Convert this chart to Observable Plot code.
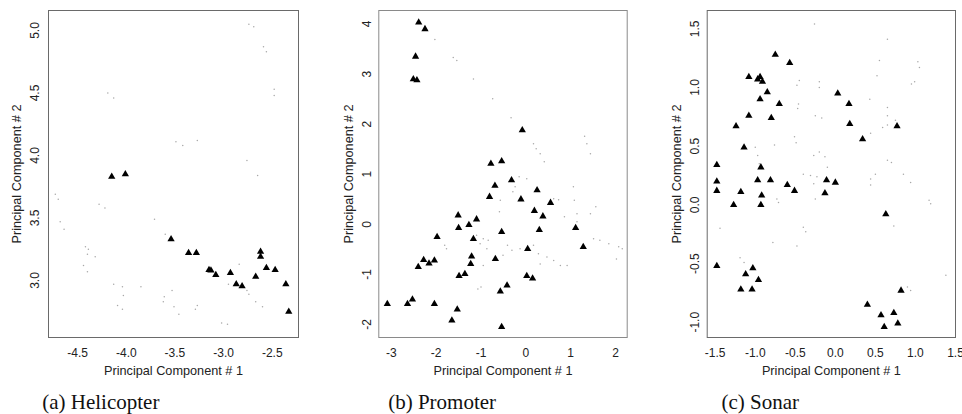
<!DOCTYPE html>
<html>
<head>
<meta charset="utf-8">
<script src="https://cdn.jsdelivr.net/npm/d3@7"></script>
<script src="https://cdn.jsdelivr.net/npm/@observablehq/plot@0.6"></script>
<style>
  html, body { margin: 0; padding: 0; background: #fff; }
  #wrap { position: relative; width: 962px; height: 414px; overflow: hidden; }
  #wrap svg { position: absolute; top: 0; overflow: visible; }
</style>
</head>
<body>
<div id="wrap"></div>
<script>
// ---------- (a) Helicopter ----------
const heliTriangles = [
  [-4.15,3.83],[-4.01,3.85],[-3.54,3.33],[-3.36,3.22],[-3.28,3.22],[-3.15,3.085],
  [-3.13,3.08],[-3.08,3.045],[-2.93,3.06],[-2.87,2.97],[-2.81,2.955],[-2.67,3.03],
  [-2.62,3.23],[-2.62,3.19],[-2.56,3.10],[-2.47,3.085],[-2.36,2.97],[-2.33,2.75]
];
const heliDots = [
  [-2.74,5.05],[-2.69,5.03],[-2.59,4.87],[-2.56,4.83],[-2.48,4.53],[-2.48,4.48],
  [-4.19,4.50],[-4.13,4.46],[-3.49,4.11],[-3.42,4.08],[-3.27,4.12],[-2.76,3.96],
  [-2.65,3.84],[-4.73,3.69],[-4.70,3.65],[-4.28,3.61],[-4.22,3.58],[-3.71,3.49],
  [-4.68,3.47],[-4.64,3.41],[-3.60,3.37],[-4.42,3.27],[-4.39,3.25],[-4.40,3.21],
  [-4.32,3.19],[-4.44,3.12],[-4.40,3.07],[-4.13,2.97],[-4.04,2.95],[-4.03,2.88],
  [-3.85,2.95],[-3.53,2.92],[-3.61,2.87],[-3.62,2.83],[-3.51,2.79],[-3.46,2.73],
  [-3.27,2.80],[-3.29,2.77],[-4.09,2.80],[-4.04,2.77],[-2.84,3.13],[-2.95,2.97],
  [-2.76,2.92],[-2.74,2.89],[-2.67,2.83],[-2.60,2.79],[-3.02,2.66],[-2.96,2.65]
];
const heliXTicks = [-4.5, -4.0, -3.5, -3.0, -2.5];
const heliYTicks = [3.0, 3.5, 4.0, 4.5, 5.0];

// ---------- (b) Promoter ----------
const promTriangles = [
  [-2.39,4.03],[-2.25,3.90],[-2.46,3.35],[-2.51,2.90],[-2.43,2.88],[-0.08,1.88],
  [-0.78,1.21],[-0.54,1.26],[-0.32,0.88],[-0.69,0.77],[-0.81,0.55],[-0.11,0.50],
  [0.25,0.68],[0.55,0.43],[0.19,0.27],[0.38,0.16],[-1.51,0.18],[-1.50,-0.07],
  [-1.27,-0.01],[-1.10,0.10],[-1.17,-0.29],[-1.98,-0.25],[-0.54,-0.15],[0.30,-0.11],
  [1.11,-0.07],[1.28,-0.45],[0.04,-0.49],[-1.21,-0.64],[-1.23,-0.79],[-0.68,-0.69],
  [-2.28,-0.71],[-2.04,-0.72],[-2.16,-0.78],[-2.40,-0.85],[-1.49,-1.03],[-1.36,-0.99],
  [0.02,-1.03],[0.15,-1.08],[-0.42,-1.22],[-0.57,-1.34],[-3.09,-1.59],[-2.64,-1.59],
  [-2.53,-1.50],[-2.04,-1.59],[-1.53,-1.70],[-1.65,-1.92],[-0.54,-2.05]
];
const promDots = [
  [-2.03,3.69],[-1.62,3.33],[-1.54,3.27],[-1.17,2.90],[-0.74,2.51],[-0.33,2.13],
  [0.17,1.61],[0.23,1.51],[0.32,1.41],[0.41,1.25],[1.31,1.76],[1.36,1.61],
  [1.44,1.41],[-0.15,0.95],[0.02,0.91],[-0.24,0.75],[-0.29,0.65],[-0.57,0.48],
  [-0.59,0.25],[0.62,0.51],[0.73,0.49],[1.06,0.75],[1.08,0.48],[1.14,0.21],
  [1.44,0.21],[1.56,0.35],[0.86,0.15],[1.14,0.05],[1.51,-0.29],[1.65,-0.32],
  [1.85,-0.39],[2.07,-0.45],[2.15,-0.49],[2.02,-0.69],[-1.10,-0.22],[-0.95,-0.29],
  [-0.84,-0.32],[-1.02,-0.39],[-0.87,-0.49],[-0.41,-0.42],[-0.31,-0.52],[-0.51,-0.62],
  [0.28,-0.59],[0.47,-0.65],[0.62,-0.72],[0.77,-0.82],[0.92,-0.82],[0.32,-0.79],
  [-0.95,-0.82],[-1.00,-1.25],[-1.07,-1.29],[-1.77,-0.49],[-1.81,-0.42],[0.17,-0.42],
  [-0.13,-0.49]
];
const promXTicks = [-3, -2, -1, 0, 1, 2];
const promYTicks = [-2, -1, 0, 1, 2, 3, 4];

// ---------- (c) Sonar ----------
const sonarTriangles = [
  [-1.48,0.34],[-1.48,0.20],[-1.48,0.12],[-1.27,0.00],[-1.18,0.11],[-1.14,0.49],
  [-1.24,0.67],[-1.08,0.76],[-1.08,1.09],[-0.97,1.07],[-0.94,1.09],[-0.91,1.05],
  [-0.85,0.96],[-0.94,0.90],[-0.75,1.28],[-0.57,1.21],[-0.70,0.86],[-0.80,0.74],
  [-0.93,0.32],[-0.97,0.21],[-0.81,0.21],[-0.92,0.08],[-0.93,0.00],[-0.60,0.17],
  [-0.51,0.12],[-0.11,0.21],[0.00,0.19],[-0.13,0.10],[0.03,0.95],[0.17,0.86],
  [0.18,0.69],[0.34,0.56],[0.77,0.67],[0.63,-0.08],[-1.48,-0.52],[-1.03,-0.54],
  [-1.12,-0.59],[-0.96,-0.64],[-1.18,-0.72],[-1.04,-0.72],[0.82,-0.73],[0.40,-0.85],
  [0.57,-0.94],[0.73,-0.92],[0.78,-1.01],[0.61,-1.04]
];
const sonarDots = [
  [-0.26,1.54],[0.65,1.41],[0.55,1.23],[0.52,1.10],[1.03,1.22],[1.05,1.17],
  [0.99,1.05],[0.95,1.03],[-0.45,1.06],[-0.48,1.02],[-0.20,1.05],[-0.20,1.00],
  [0.43,0.90],[-0.46,0.86],[-0.47,0.82],[0.65,0.83],[0.65,0.76],[0.75,0.72],
  [0.65,0.68],[0.59,0.66],[0.44,0.61],[-0.25,0.76],[-0.17,0.74],[-0.51,0.58],
  [-0.49,0.53],[-0.76,0.51],[-1.00,0.49],[-0.97,0.42],[-0.95,0.35],[-0.20,0.45],
  [-0.27,0.42],[-0.13,0.41],[-0.10,0.32],[-0.40,0.26],[-0.31,0.25],[-0.23,0.24],
  [-0.27,0.18],[0.65,0.38],[0.70,0.36],[0.50,0.26],[0.44,0.22],[0.44,0.17],
  [0.85,0.26],[0.94,0.19],[1.17,0.04],[1.19,0.01],[-0.73,0.05],[-0.71,0.02],
  [-0.25,0.05],[-0.40,-0.19],[-0.37,-0.23],[-0.48,-0.35],[-0.78,-0.32],[-1.44,-0.20],
  [-1.19,-0.45],[-1.14,-0.49],[0.73,-0.18],[1.38,-0.60],[0.90,-0.70],[0.94,-0.73]
];
const sonarXTicks = [-1.5, -1.0, -0.5, 0.0, 0.5, 1.0, 1.5];
const sonarYTicks = [-1.0, -0.5, 0.0, 0.5, 1.0, 1.5];

const xTitle = "Principal Component # 1";
const yTitle = "Principal Component # 2";
const captions = ["(a) Helicopter", "(b) Promoter", "(c) Sonar"];

const panels = [
  {left: 0, width: 320, ml: 48, mr: 22, xd: [-4.80, -2.23], yd: [2.544, 5.16],
   tri: heliTriangles, dots: heliDots, xt: heliXTicks, yt: heliYTicks, fmt: d => d.toFixed(1),
   ytOff: 13, ytitleOff: 31.3, capDx: -6.3, cap: captions[0], frame: "#6a6a6a"},
  {left: 320, width: 320, ml: 58.3, mr: 13.3, xd: [-3.28, 2.26], yd: [-2.26, 4.27],
   tri: promTriangles, dots: promDots, xt: promXTicks, yt: promYTicks, fmt: d => String(d),
   ytOff: 11.7, ytitleOff: 30, capDx: 9.4, cap: captions[1], frame: "#8a8a8a"},
  {left: 640, width: 322, ml: 66.7, mr: 7, xd: [-1.60, 1.50], yd: [-1.13, 1.656],
   tri: sonarTriangles, dots: sonarDots, xt: sonarXTicks, yt: sonarYTicks, fmt: d => d.toFixed(1),
   ytOff: 11.7, ytitleOff: 30, capDx: 14.3, cap: captions[2], frame: "#6a6a6a"}
];

const wrap = document.getElementById("wrap");
for (const p of panels) {
  const svg = Plot.plot({
    width: p.width,
    height: 414,
    marginLeft: p.ml,
    marginRight: p.mr,
    marginTop: 10,
    marginBottom: 77,
    style: {fontFamily: "'Liberation Sans', Arial, Helvetica, sans-serif", fontSize: "12px", color: "#222", background: "transparent", overflow: "visible"},
    x: {domain: p.xd},
    y: {domain: p.yd},
    marks: [
      Plot.axisX(p.xt, {tickSize: 0, tickPadding: 16, lineAnchor: "middle", tickFormat: p.fmt, label: null, fontSize: 12}),
      Plot.axisY(p.yt, {tickSize: 0, tickPadding: p.ytOff, tickRotate: -90, textAnchor: "middle", lineAnchor: "middle", tickFormat: p.fmt, label: null, fontSize: 12}),
      Plot.dot(p.dots, {x: d => d[0], y: d => d[1], r: 0.75, fill: "#a8a8a8", stroke: "none"}),
      Plot.dot(p.tri, {x: d => d[0], y: d => d[1], symbol: "triangle", r: 2.7, fill: "black", stroke: "none"}),
      Plot.frame({stroke: p.frame, strokeWidth: 1}),
      Plot.text([xTitle], {frameAnchor: "bottom", dy: 33, lineAnchor: "middle", fontSize: 12.7, fill: "#222"}),
      Plot.text([yTitle], {frameAnchor: "left", dx: -p.ytitleOff, rotate: -90, textAnchor: "middle", lineAnchor: "middle", fontSize: 12.7, fill: "#222"}),
      Plot.text([p.cap], {frameAnchor: "bottom-left", dx: p.capDx, dy: 64.6, textAnchor: "start", lineAnchor: "middle", fontSize: 21, fontFamily: "'Liberation Serif', 'Times New Roman', serif", fill: "#111"})
    ]
  });
  svg.style.left = p.left + "px";
  wrap.appendChild(svg);
}
</script>
</body>
</html>
